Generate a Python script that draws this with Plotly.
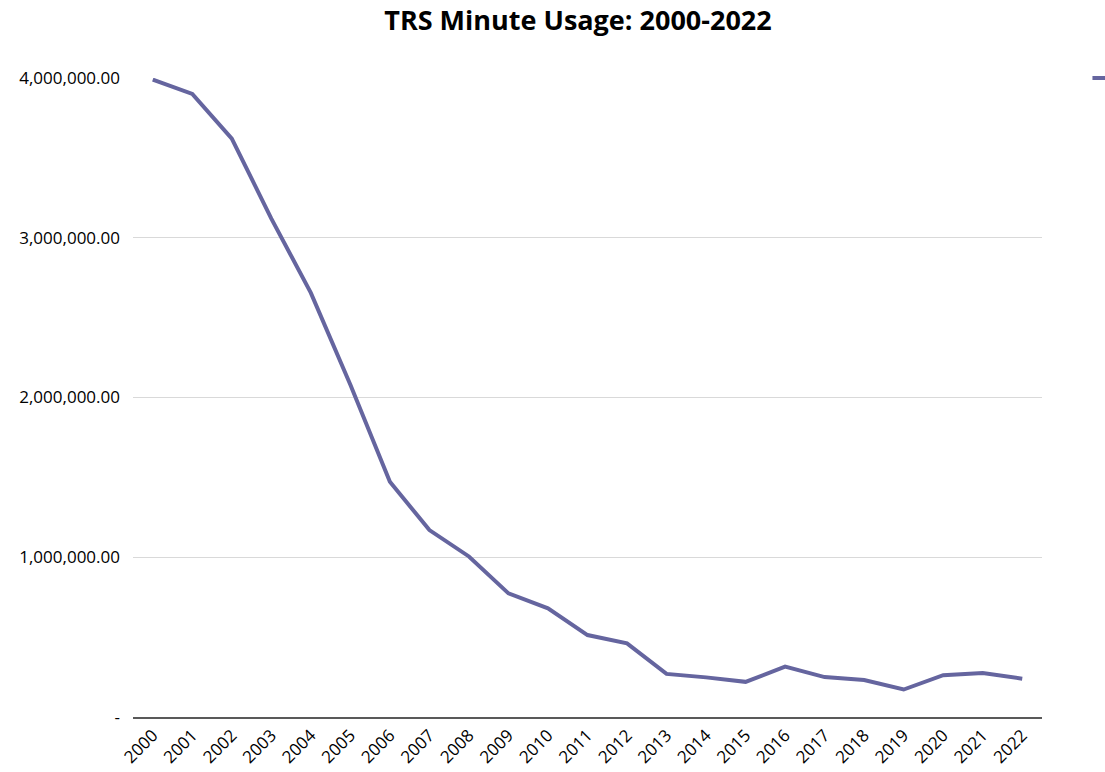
import plotly.graph_objects as go

# Annual TRS minutes, 2000-2022
years = [str(y) for y in range(2000, 2023)]
minutes = [
    3990000, 3900000, 3620000, 3120000, 2655000, 2080000, 1473000, 1170000,
    1005000, 774000, 680000, 513000, 461000, 270000, 248000, 220000,
    315000, 250000, 232000, 172000, 262000, 275000, 240000,
]
y_ticks = [0, 1000000, 2000000, 3000000, 4000000]
y_tick_text = ["-", "1,000,000.00", "2,000,000.00", "3,000,000.00", "4,000,000.00"]

FONT = "'Open Sans', Lato, Arial, sans-serif"

fig = go.Figure()
fig.add_trace(go.Scatter(
    x=years, y=minutes, mode="lines", name="TRS Minutes",
    line=dict(color="#65659F", width=4),
))

fig.update_layout(
    width=1105, height=772,
    paper_bgcolor="white", plot_bgcolor="white",
    margin=dict(l=133, r=63, t=78, b=55, autoexpand=False),
    title=dict(
        text="<b>TRS Minute Usage: 2000-2022</b>",
        x=578 / 1105, xanchor="center", y=1 - 21 / 772, yanchor="middle",
        font=dict(family=FONT, size=27, color="#000000"),
    ),
    font=dict(family=FONT, color="#000000"),
    showlegend=True,
    legend=dict(
        x=1.05, xanchor="left", y=1.0, yanchor="middle",
        font=dict(size=16), bgcolor="rgba(0,0,0,0)",
    ),
)

fig.update_xaxes(
    type="category", range=[-0.5, len(years) - 0.5],
    tickangle=-45, tickfont=dict(size=17),
    showgrid=False, showline=True, linecolor="#595959", linewidth=1.5,
    ticks="", zeroline=False,
)
fig.update_yaxes(
    range=[0, 4000000], tickvals=y_ticks, ticktext=y_tick_text,
    tickfont=dict(size=17), showgrid=True, gridcolor="#d9d9d9", gridwidth=1,
    showline=False, zeroline=False, ticks="", ticklabelstandoff=12,
)

fig.write_html("out.html")
